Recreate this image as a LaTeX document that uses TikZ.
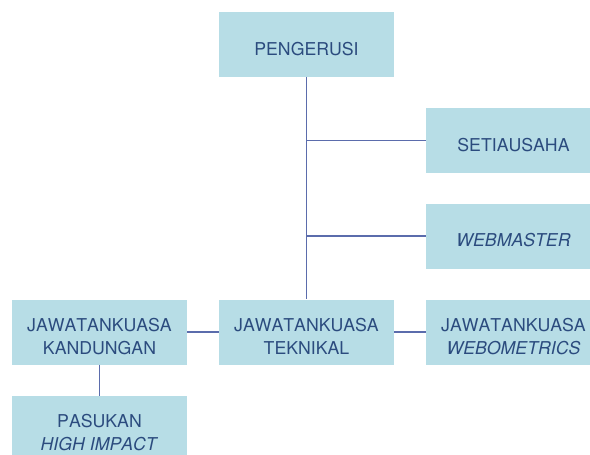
\documentclass[tikz,border=0pt]{standalone}
\usepackage{fontspec}
\setmainfont[Kerning=Off]{TeX Gyre Heros}
\definecolor{boxfill}{HTML}{B7DDE6}
\definecolor{boxtext}{HTML}{2B4B7E}
\definecolor{linkline}{HTML}{5B6CAC}
\newcommand\boxlabel[1]{\raisebox{-6pt}[\height][\depth]{\begin{tabular}{@{}c@{}}#1\end{tabular}}}
\tikzset{
  unit/.style={fill=boxfill, text=boxtext, minimum width=175pt, minimum height=65pt,
    inner sep=0pt, font=\fontsize{17.7}{23}\selectfont},
  link/.style={draw=linkline, line width=1.8pt}
}
\begin{document}
\begin{tikzpicture}[x=1pt,y=-1pt]
  \useasboundingbox (0,0) rectangle (590,455);
  \node[unit] (peng) at (306.5,44.5) {\boxlabel{PENGERUSI}};
  \node[unit] (setia) at (513.5,140.5) {\boxlabel{SETIAUSAHA}};
  \node[unit] (web) at (513.5,236) {\boxlabel{\textit{WEBMASTER}}};
  \node[unit] (tek) at (306.5,332) {\boxlabel{JAWATANKUASA\\TEKNIKAL}};
  \node[unit] (kand) at (99.5,332) {\boxlabel{JAWATANKUASA\\KANDUNGAN}};
  \node[unit] (wbm) at (513.5,332) {\boxlabel{JAWATANKUASA\\\textit{WEBOMETRICS}}};
  \node[unit] (hip) at (99.5,428.5) {\boxlabel{PASUKAN\\\textit{HIGH IMPACT}}};
  % links
  \draw[link] (peng) -- (tek);
  \draw[link] (peng |- setia) -- (setia);
  \draw[link] (peng |- web) -- (web);
  \draw[link] (kand) -- (tek);
  \draw[link] (tek) -- (wbm);
  \draw[link] (kand) -- (hip);
\end{tikzpicture}
\end{document}
